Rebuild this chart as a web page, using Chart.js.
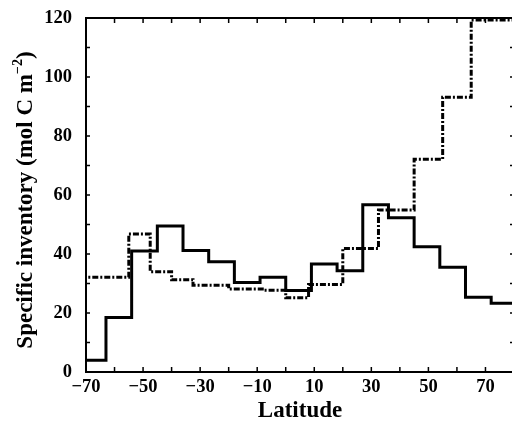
<!DOCTYPE html>
<html>
<head>
<meta charset="utf-8">
<script src="https://cdn.jsdelivr.net/npm/chart.js@4/dist/chart.umd.min.js"></script>
<style>
  html, body { margin: 0; padding: 0; background: #fff; overflow: hidden; width: 512px; height: 421px; }
  #wrap { position: absolute; left: 0; top: 0; width: 520px; height: 421px; }
</style>
</head>
<body>
<div id="wrap"><canvas id="chart" width="520" height="421"></canvas></div>
<script>
// latitude histograms, bins given by their edges (last edge closes the last bin)

const solidEdges = [-72, -63, -54, -45, -36, -27, -18, -9, 0, 9, 18, 27, 36, 45, 54, 63, 72, 81];
const solidValues = [4, 18.5, 41, 49.5, 41.2, 37.4, 30.3, 32.1, 27.6, 36.6, 34.3, 56.7, 52.3, 42.5, 35.5, 25.3, 23.3];

const dashedEdges = [-72, -55, -47.5, -40, -32.5, -20, -7.5, 0, 8, 20, 32.5, 45, 55, 65, 81];
const dashedValues = [32.1, 46.8, 34.0, 31.3, 29.4, 28.1, 27.7, 25.2, 29.7, 41.9, 54.9, 72.1, 93.1, 119.3];

const xTicks = [-70, -50, -30, -10, 10, 30, 50, 70];
const yTicks = [0, 20, 40, 60, 80, 100, 120];

const xTitle = "Latitude";
const yTitle = "Specific inventory (mol C m";
const yTitleSup = "\u22122";
const yTitleEnd = ")";

const FONT = "'Liberation Serif', 'Times New Roman', serif";

function steps(edges, values) {
  const pts = values.map((v, i) => ({ x: edges[i], y: v }));
  pts.push({ x: edges[edges.length - 1], y: values[values.length - 1] });
  return pts;
}

function fmt(v) {
  return v < 0 ? "\u2212" + Math.abs(v) : String(v);
}

// box round the plot, ticks pointing inward on all four sides
const frame = {
  id: "frame",
  afterDatasetsDraw(chart) {
    const { ctx, chartArea: a, scales: { x, y } } = chart;
    ctx.save();
    ctx.strokeStyle = "#000";
    ctx.lineWidth = 2;
    ctx.strokeRect(a.left, a.top, a.right - a.left, a.bottom - a.top);
    ctx.lineWidth = 1.5;
    ctx.beginPath();
    for (let v = -70; v <= 80; v += 10) {
      const px = x.getPixelForValue(v);
      ctx.moveTo(px, a.bottom); ctx.lineTo(px, a.bottom - 5);
      ctx.moveTo(px, a.top); ctx.lineTo(px, a.top + 5);
    }
    for (let v = 0; v <= 120; v += 10) {
      const py = y.getPixelForValue(v);
      ctx.moveTo(a.left, py); ctx.lineTo(a.left + 4, py);
      ctx.moveTo(a.right, py); ctx.lineTo(a.right - 4, py);
    }
    ctx.stroke();

    // y title with the superscript
    const cy = (a.top + a.bottom) / 2 + 5;
    ctx.translate(25, cy);
    ctx.rotate(-Math.PI / 2);
    ctx.fillStyle = "#000";
    ctx.textBaseline = "alphabetic";
    ctx.textAlign = "left";
    const big = "bold 23px " + FONT;
    const small = "bold 14px " + FONT;
    ctx.font = big;
    const w1 = ctx.measureText(yTitle).width;
    const w3 = ctx.measureText(yTitleEnd).width;
    ctx.font = small;
    const w2 = ctx.measureText(yTitleSup).width;
    let tx = -(w1 + w2 + w3) / 2;
    const base = 7;
    ctx.font = big;
    ctx.fillText(yTitle, tx, base);
    tx += w1;
    ctx.font = small;
    ctx.fillText(yTitleSup, tx, base - 10);
    tx += w2;
    ctx.font = big;
    ctx.fillText(yTitleEnd, tx, base);
    ctx.restore();
  },
};

new Chart(document.getElementById("chart"), {
  type: "line",
  data: {
    datasets: [
      {
        data: steps(dashedEdges, dashedValues),
        borderColor: "#000",
        borderWidth: 3,
        borderDash: [6, 2, 2, 2],
        borderCapStyle: "butt",
        stepped: true,
        pointRadius: 0,
        fill: false,
      },
      {
        data: steps(solidEdges, solidValues),
        borderColor: "#000",
        borderWidth: 3,
        borderJoinStyle: "miter",
        stepped: true,
        pointRadius: 0,
        fill: false,
      },
    ],
  },
  options: {
    responsive: false,
    animation: false,
    devicePixelRatio: 1,
    layout: { padding: { left: 0, right: 6, top: 0, bottom: 0 } },
    plugins: { legend: { display: false }, tooltip: { enabled: false } },
    scales: {
      x: {
        type: "linear",
        min: -70,
        max: 80,
        afterBuildTicks: (s) => { s.ticks = xTicks.map((v) => ({ value: v })); },
        afterFit: (s) => { s.height = 49; },
        grid: { display: false, drawTicks: false },
        border: { display: false },
        ticks: {
          padding: 4,
          maxRotation: 0,
          autoSkip: false,
          color: "#000",
          font: { family: FONT, size: 18.5, weight: "bold" },
          callback: (v) => fmt(v),
        },
        title: {
          display: true,
          text: xTitle,
          color: "#000",
          padding: { top: 0, bottom: -2 },
          font: { family: FONT, size: 23, weight: "bold", lineHeight: 1 },
        },
      },
      y: {
        min: 0,
        max: 120,
        afterBuildTicks: (s) => { s.ticks = yTicks.map((v) => ({ value: v })); },
        afterFit: (s) => {
          s.width = 86;
          s.paddingTop = 18;
          s.paddingBottom = 0;
        },
        grid: { display: false, drawTicks: false },
        border: { display: false },
        ticks: {
          padding: 14,
          color: "#000",
          font: { family: FONT, size: 18.5, weight: "bold" },
          callback: (v) => fmt(v),
        },
      },
    },
  },
  plugins: [frame],
});
</script>
</body>
</html>
